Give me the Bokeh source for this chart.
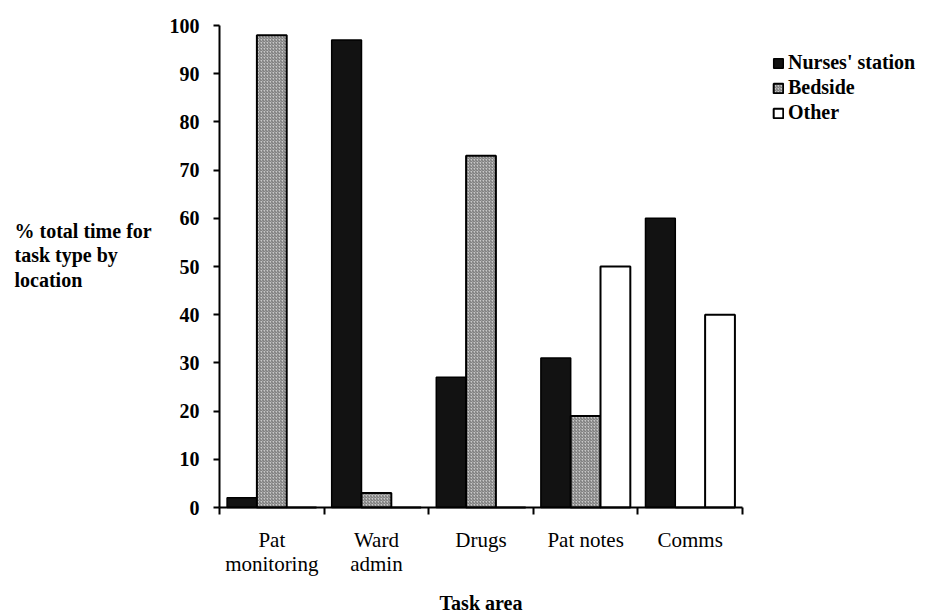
from bokeh.plotting import figure
from bokeh.models import ColumnDataSource, FixedTicker, Legend, LegendItem, Range1d, Label
from bokeh.transform import dodge
from bokeh.embed import file_html
from bokeh.resources import INLINE

categories = ["Pat monitoring", "Ward admin", "Drugs", "Pat notes", "Comms"]
tick_labels = ["Pat\nmonitoring", "Ward\nadmin", "Drugs", "Pat notes", "Comms"]
nurses_station = [2, 97, 27, 31, 60]
bedside = [98, 3, 73, 19, 0]
other = [0, 0, 0, 50, 40]
y_ticks = [0, 10, 20, 30, 40, 50, 60, 70, 80, 90, 100]
series_names = ["Nurses' station", "Bedside", "Other"]
y_title_lines = ["% total time for", "task type by", "location"]
x_title = "Task area"

FONT = "Liberation Serif"
W, H = 931, 616
n = len(categories)
# frame is the whole canvas; data 0..n maps to x 219..742, 0..100 maps to y 507..25
px_per_cat = (742 - 219) / n
px_per_pct = (507 - 25) / 100
x_start = -219 / px_per_cat
x_end = (W - 219) / px_per_cat
y_start = -(H - 507) / px_per_pct
y_end = 507 / px_per_pct

xc = [i + 0.5 for i in range(n)]
src = ColumnDataSource(dict(x=xc, cat=categories, nurses=nurses_station, bedside=bedside, other=other))

p = figure(width=W, height=H, output_backend="svg", toolbar_location=None,
           x_range=Range1d(x_start, x_end), y_range=Range1d(y_start, y_end),
           min_border_left=0, min_border_right=0, min_border_top=0, min_border_bottom=0)
p.outline_line_color = None
p.xgrid.visible = False
p.ygrid.visible = False
p.background_fill_color = "white"

bw = 0.285
r1 = p.vbar(x=dodge("x", -bw, range=p.x_range), top="nurses", width=bw, source=src,
            fill_color="#121212", line_color="black", line_width=1.5)
r2 = p.vbar(x=dodge("x", 0, range=p.x_range), top="bedside", width=bw, source=src,
            fill_color="#c8c8c8", hatch_pattern="right_diagonal_line", hatch_color="#6e6e6e",
            hatch_scale=3, hatch_weight=1, line_color="black", line_width=2)
r3 = p.vbar(x=dodge("x", bw, range=p.x_range), top="other", width=bw, source=src,
            fill_color="white", line_color="black", line_width=2)

# y axis (drawn at x = 0 inside the frame)
ya = p.yaxis[0]
ya.fixed_location = 0
ya.ticker = FixedTicker(ticks=y_ticks)
ya.bounds = (0, 100)
ya.axis_line_width = 2
ya.major_tick_line_width = 2
ya.major_tick_out = 6
ya.major_tick_in = 0
ya.minor_tick_line_color = None
ya.major_label_text_font = FONT
ya.major_label_text_font_style = "bold"
ya.major_label_text_font_size = "20px"
ya.major_label_text_color = "black"
ya.major_label_standoff = 14

# x axis (drawn at y = 0 inside the frame)
xa = p.xaxis[0]
xa.fixed_location = 0
xa.ticker = FixedTicker(ticks=xc, minor_ticks=list(range(n + 1)))
xa.bounds = (0, n)
xa.major_label_overrides = {v: t for v, t in zip(xc, tick_labels)}
xa.axis_line_width = 2
xa.major_tick_line_color = None
xa.major_tick_out = 0
xa.major_tick_in = 0
xa.minor_tick_line_color = "black"
xa.minor_tick_line_width = 2
xa.minor_tick_out = 7
xa.minor_tick_in = 0
xa.major_label_text_font = FONT
xa.major_label_text_font_size = "21px"
xa.major_label_text_line_height = 1.0
xa.major_label_text_color = "black"
xa.major_label_standoff = 13
xa.axis_label = x_title
xa.axis_label_text_font = FONT
xa.axis_label_text_font_style = "bold"
xa.axis_label_text_font_size = "20px"
xa.axis_label_text_color = "black"
xa.axis_label_standoff = 13

# horizontal y title, left aligned, three lines
for i, line in enumerate(y_title_lines):
    p.add_layout(Label(x=14, y=H - 230 - 24.5 * i, x_units="screen", y_units="screen", text=line,
                       text_font=FONT, text_font_style="bold", text_font_size="20px",
                       text_baseline="middle", text_align="left", text_color="black"))

legend = Legend(items=[LegendItem(label=s, renderers=[r]) for s, r in zip(series_names, [r1, r2, r3])],
                location=(772, H - 125), border_line_color=None, background_fill_alpha=0,
                label_text_font=FONT, label_text_font_style="bold", label_text_font_size="20px",
                label_text_color="black",
                glyph_width=12, glyph_height=12, label_height=25, spacing=0, padding=0, margin=0,
                label_standoff=4)
p.add_layout(legend)

open("out.html", "w").write(file_html(p, INLINE))
